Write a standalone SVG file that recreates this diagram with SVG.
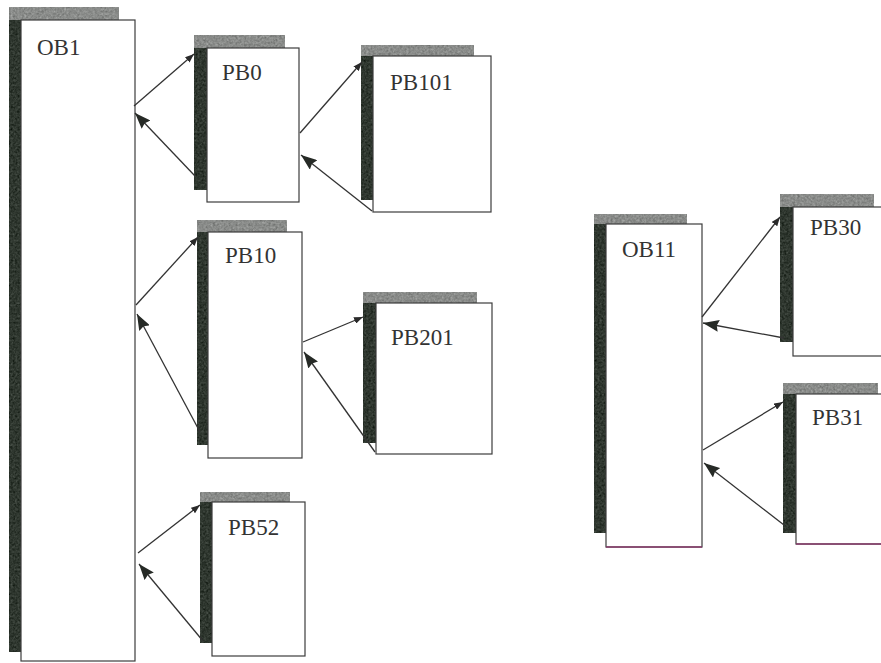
<svg xmlns="http://www.w3.org/2000/svg" width="881" height="663" viewBox="0 0 881 663">
  <defs>
    <!-- mottled print texture for the block shadows -->
    <filter id="grain" x="0" y="0" width="100%" height="100%" color-interpolation-filters="sRGB">
      <feTurbulence type="fractalNoise" baseFrequency="0.45" numOctaves="2" seed="7" result="noise"/>
      <feColorMatrix in="noise" type="matrix" values="0.33 0.33 0.33 0 0  0.33 0.33 0.33 0 0  0.33 0.33 0.33 0 0  0 0 0 0 1" result="grey"/>
      <feComposite in="SourceGraphic" in2="grey" operator="arithmetic" k1="0" k2="1" k3="0.5" k4="-0.25" result="mix"/>
      <feComposite in="mix" in2="SourceGraphic" operator="in"/>
    </filter>
    <marker id="call" viewBox="0 0 9 7" refX="9" refY="3.5" markerWidth="9" markerHeight="7" markerUnits="userSpaceOnUse" orient="auto">
      <path d="M0,0 L9,3.5 L0,7 z" fill="#2a2a2a"/>
    </marker>
    <marker id="ret" viewBox="0 0 16 12" refX="16" refY="6" markerWidth="16" markerHeight="12" markerUnits="userSpaceOnUse" orient="auto">
      <path d="M0,0 L16,6 L0,12 L2,6 z" fill="#262a26"/>
    </marker>
  </defs>
  <style>
    .bar { fill: #2f372f; filter: url(#grain); }
    .band { fill: #8a8c8a; filter: url(#grain); }
    .face { fill: #ffffff; stroke: #3c3c3c; stroke-width: 1.2; }
    .tint { stroke: #8a3c6c; stroke-width: 1.6; fill: none; }
    .label { font-family: "Liberation Serif", "Times New Roman", serif; font-size: 23px; fill: #333333; }
    .link { stroke: #333333; stroke-width: 1.3; fill: none; }
    .go { marker-end: url(#call); }
    .back { marker-end: url(#ret); }
  </style>

  <rect width="881" height="663" fill="#ffffff"/>

  <!-- organisation blocks and program blocks -->
  <g id="OB1">
    <rect class="bar" x="9" y="7" width="110" height="645"/>
    <rect class="band" x="9" y="7" width="110" height="13"/>
    <rect class="face" x="21" y="20" width="114" height="641"/>
    <text class="label" x="37" y="55">OB1</text>
  </g>

  <g id="PB0">
    <rect class="bar" x="194" y="35" width="91" height="155"/>
    <rect class="band" x="194" y="35" width="91" height="13"/>
    <rect class="face" x="207" y="48" width="92" height="154"/>
    <text class="label" x="222" y="80">PB0</text>
  </g>

  <g id="PB101">
    <rect class="bar" x="361" y="45" width="113" height="155"/>
    <rect class="band" x="361" y="45" width="113" height="11"/>
    <rect class="face" x="373" y="56" width="118" height="156"/>
    <text class="label" x="390" y="90">PB101</text>
  </g>

  <g id="PB10">
    <rect class="bar" x="197" y="220" width="90" height="225"/>
    <rect class="band" x="197" y="220" width="90" height="12"/>
    <rect class="face" x="208" y="232" width="94" height="226"/>
    <text class="label" x="225" y="263">PB10</text>
  </g>

  <g id="PB201">
    <rect class="bar" x="363" y="292" width="114" height="151"/>
    <rect class="band" x="363" y="292" width="114" height="11"/>
    <rect class="face" x="376" y="303" width="116" height="151"/>
    <text class="label" x="391" y="345">PB201</text>
  </g>

  <g id="PB52">
    <rect class="bar" x="200" y="492" width="90" height="151"/>
    <rect class="band" x="200" y="492" width="90" height="10"/>
    <rect class="face" x="212" y="502" width="93" height="154"/>
    <text class="label" x="228" y="535">PB52</text>
  </g>

  <g id="OB11">
    <rect class="bar" x="594" y="214" width="93" height="319"/>
    <rect class="band" x="594" y="214" width="93" height="10"/>
    <rect class="face" x="606" y="224" width="96" height="323"/>
    <line class="tint" x1="606" y1="547" x2="702" y2="547"/>
    <text class="label" x="622" y="257">OB11</text>
  </g>

  <g id="PB30">
    <rect class="bar" x="780" y="194" width="94" height="148"/>
    <rect class="band" x="780" y="194" width="94" height="13"/>
    <rect class="face" x="793" y="207" width="100" height="149"/>
    <text class="label" x="810" y="235">PB30</text>
  </g>

  <g id="PB31">
    <rect class="bar" x="783" y="383" width="95" height="150"/>
    <rect class="band" x="783" y="383" width="95" height="11"/>
    <rect class="face" x="796" y="394" width="100" height="150"/>
    <line class="tint" x1="796" y1="544" x2="881" y2="544"/>
    <text class="label" x="812" y="425">PB31</text>
  </g>

  <!-- calls (small heads) and returns (large heads) -->
  <g id="connectors">
    <path class="link go" d="M134,106 L194,54"/>
    <path class="link back" d="M195,176 L135,113"/>

    <path class="link go" d="M300,133 L362,62"/>
    <path class="link back" d="M372,211 L301,155"/>

    <path class="link go" d="M136,305 L198,237"/>
    <path class="link back" d="M200,432 L137,314"/>

    <path class="link go" d="M303,342 L363,317"/>
    <path class="link back" d="M375,452 L304,352"/>

    <path class="link go" d="M138,553 L200,505"/>
    <path class="link back" d="M203,641 L139,564"/>

    <path class="link go" d="M702,317 L780,217"/>
    <path class="link back" d="M784,338 L703,323"/>

    <path class="link go" d="M703,450 L783,402"/>
    <path class="link back" d="M784,525 L704,463"/>
  </g>
</svg>
